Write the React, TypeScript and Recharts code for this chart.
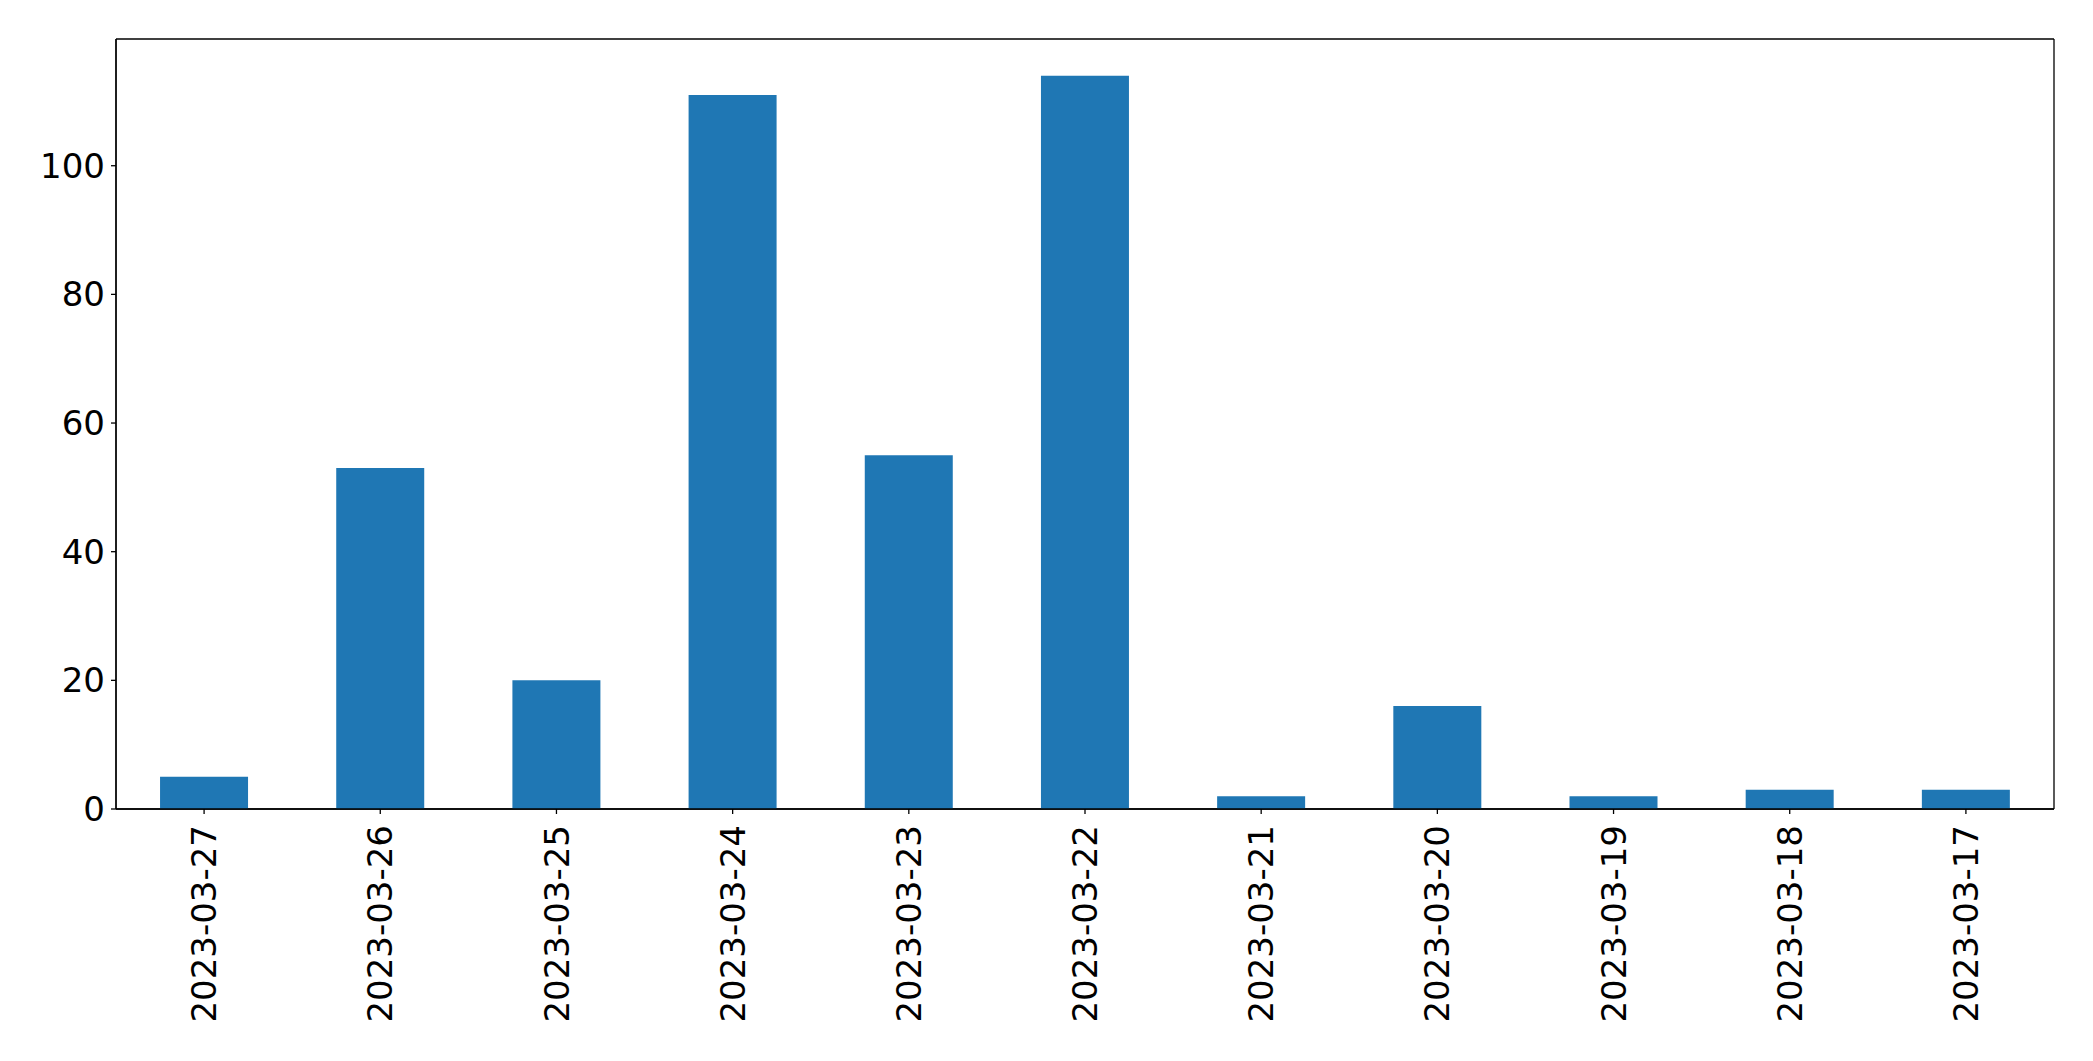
import React from 'react';
import { BarChart, Bar, XAxis, YAxis, CartesianGrid } from 'recharts';

const dates = [
  '2023-03-27', '2023-03-26', '2023-03-25', '2023-03-24', '2023-03-23', '2023-03-22',
  '2023-03-21', '2023-03-20', '2023-03-19', '2023-03-18', '2023-03-17',
];
const counts = [5, 53, 20, 111, 55, 114, 2, 16, 2, 3, 3];
const yTicks = [0, 20, 40, 60, 80, 100];

const data = dates.map((d, i) => ({ date: d, count: counts[i] }));

const FONT = 'DejaVu Sans';
const FS = 34;

const DateTick = (props: any) => {
  const { x, y, payload } = props;
  return (
    <text
      transform={`translate(${x},${y}) rotate(-90)`}
      textAnchor="end"
      dy="0.355em"
      fontFamily={FONT}
      fontSize={FS}
      fill="#000"
    >
      {payload.value}
    </text>
  );
};

// frame lines (matplotlib-style box around the plot area)
const hFrame = ({ offset }: any) => [offset.top, offset.top + offset.height];
const vFrame = ({ offset }: any) => [offset.left, offset.left + offset.width];

const App = () => {
  return (
    <div style={{ position: 'absolute', left: 0, top: 0, background: '#fff' }}>
      <BarChart
        width={2093}
        height={1061}
        data={data}
        margin={{ top: 39, right: 39, left: 0, bottom: 0 }}
        barCategoryGap="25%"
      >
        <CartesianGrid
          stroke="#000"
          strokeWidth={1.3}
          horizontalCoordinatesGenerator={hFrame}
          verticalCoordinatesGenerator={vFrame}
        />
        <XAxis
          dataKey="date"
          height={252}
          interval={0}
          tick={<DateTick />}
          tickSize={5}
          tickMargin={11}
          axisLine={{ stroke: '#000', strokeWidth: 1.3 }}
          tickLine={{ stroke: '#000', strokeWidth: 1.3 }}
        />
        <YAxis
          width={116}
          domain={[0, 119.7]}
          ticks={yTicks}
          tickSize={5}
          tickMargin={6}
          tick={{ fontFamily: FONT, fontSize: FS, fill: '#000' }}
          axisLine={{ stroke: '#000', strokeWidth: 1.3 }}
          tickLine={{ stroke: '#000', strokeWidth: 1.3 }}
        />
        <Bar dataKey="count" fill="#1f77b4" isAnimationActive={false} />
      </BarChart>
    </div>
  );
};

export default App;
